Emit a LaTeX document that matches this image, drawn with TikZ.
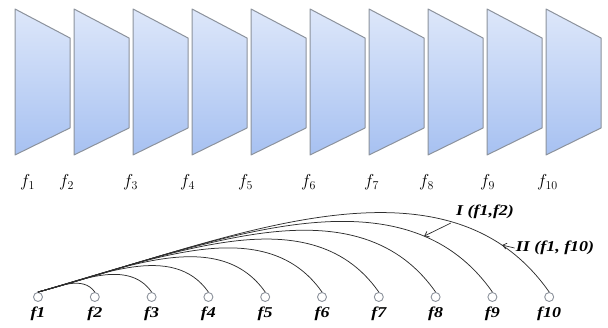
\documentclass[tikz,border=0pt]{standalone}
\usepackage{fontspec}
\setmainfont{Liberation Serif}
\usepackage{tikz}
\usetikzlibrary{positioning,arrows.meta}
\definecolor{paneltop}{HTML}{DDE7FA}
\definecolor{panelbot}{HTML}{A7C1F1}
\definecolor{paneledge}{HTML}{8C929C}
\definecolor{linkgray}{HTML}{2E2E2E}
\newcommand{\widelbl}[1]{\scalebox{1.2}[1]{#1}}

\begin{document}
\begin{tikzpicture}[x=1pt, y=1pt,
  panel/.style={draw=paneledge, line width=1pt, top color=paneltop, bottom color=panelbot, line join=round},
  flab/.style={anchor=base west, inner sep=0pt, font=\fontsize{17}{19}\selectfont},
  leaf/.style={circle, draw=paneledge, line width=0.9pt, fill=white, minimum size=9pt, inner sep=0pt},
  leaflab/.style={font=\fontsize{15}{17}\selectfont\bfseries\itshape, inner sep=0pt},
  link/.style={draw=linkgray, line width=0.75pt, out=15, in=125, looseness=0.93},
  note/.style={font=\fontsize{15}{17}\selectfont\bfseries\itshape, inner sep=0pt},
  pointer/.style={-{Straight Barb[length=4pt,width=6pt]}, line width=0.7pt, draw=linkgray}
]
\useasboundingbox (0,0) rectangle (608,328);
% frames
\foreach \i [evaluate=\i as \x using 15+59*\i] in {0,...,9}
  \draw[panel] (\x,319) -- (\x+55,290) -- (\x+55,200) -- (\x,173) -- cycle;
\node[flab] (ft1) at (20,141) {$f_1$};
\node[flab] (ft2) at (59,141) {$f_2$};
\node[flab] (ft3) at (123,141) {$f_3$};
\node[flab] (ft4) at (180,141) {$f_4$};
\node[flab] (ft5) at (238,141) {$f_5$};
\node[flab] (ft6) at (301,141) {$f_6$};
\node[flab] (ft7) at (364,141) {$f_7$};
\node[flab] (ft8) at (419,141) {$f_8$};
\node[flab] (ft9) at (480,141) {$f_9$};
\node[flab] (ft10) at (537,141) {$f_{10}$};
% tree
\foreach \i [evaluate=\i as \x using 38+56.8*(\i-1)] in {1,...,10}{
  \node[leaf] (c\i) at (\x,31) {};
  \node[leaflab,below=5pt of c\i] (t\i) {\widelbl{f\i}};
}
\foreach \k in {2,...,10}
  \draw[link] (c1.north) to coordinate[pos=0.8] (p\k) coordinate[pos=0.87] (q\k) (c\k.north);
\node[note] (n1) at (485,116) {\widelbl{I (f1,f2)}};
\node[note] (n2) at (555,80) {\widelbl{II (f1, f10)}};
\draw[pointer] ([shift={(-5,-4)}]n1.south west) -- (p9);
\draw[pointer] ([xshift=-1pt]n2.west) -- (q10);
\end{tikzpicture}
\end{document}
